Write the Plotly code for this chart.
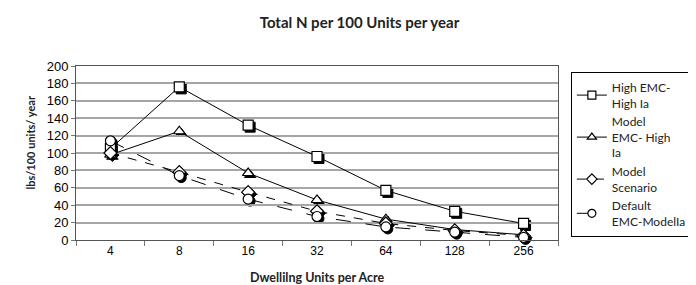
import plotly.graph_objects as go

categories = ["4", "8", "16", "32", "64", "128", "256"]
high_emc_high_ia = [105, 176, 132, 96, 57, 33, 19]
model_emc_high_ia = [98, 125, 77, 46, 24, 12, 6]
model_scenario = [100, 78, 55, 33, 19, 11, 5]
default_emc_model_ia = [114, 74, 47, 27, 15, 9, 3]

series = [
    ("High EMC-<br>High Ia", high_emc_high_ia, "square", "solid"),
    ("Model<br>EMC- High<br>Ia", model_emc_high_ia, "triangle-up", "solid"),
    ("Model<br>Scenario", model_scenario, "diamond", "dash"),
    ("Default<br>EMC-ModelIa", default_emc_model_ia, "circle", "longdash"),
]

W, H = 696, 285
ml, mr, mt, mb = 68, 138, 58, 51
pw, ph = W - ml - mr, H - mt - mb
dx, dy = 2 / pw, 2 / ph
MS = 10

fig = go.Figure()
# shadows (hidden, slightly shifted subplot, drawn first)
for name, vals, sym, dash in series:
    fig.add_trace(go.Scatter(x=categories, y=vals, mode="markers", xaxis="x", yaxis="y",
                             marker=dict(symbol=sym, size=MS, color="black", line=dict(color="black", width=1)),
                             showlegend=False, hoverinfo="skip", cliponaxis=False))
for name, vals, sym, dash in series:
    fig.add_trace(go.Scatter(x=categories, y=vals, name=name, mode="lines+markers", xaxis="x2", yaxis="y2",
                             line=dict(color="black", width=1, dash=dash),
                             marker=dict(symbol=sym, size=MS, color="white", line=dict(color="black", width=1.2)),
                             cliponaxis=False, showlegend=False))
# legend entries
for name, vals, sym, dash in series:
    fig.add_trace(go.Scatter(x=[None], y=[None], name=name, mode="lines+markers", xaxis="x2", yaxis="y2",
                             line=dict(color="black", width=1, dash=dash),
                             marker=dict(symbol=sym, size=8, color="white", line=dict(color="black", width=1.2))))

fig.update_layout(
    width=W, height=H,
    margin=dict(l=ml, r=mr, t=mt, b=mb),
    paper_bgcolor="white", plot_bgcolor="rgba(0,0,0,0)",
    font=dict(family="Liberation Sans, Arial, sans-serif", size=12, color="black"),
    title=dict(text="<b>Total N per 100 Units per year</b>", x=0.505, xanchor="center", y=0.95, yanchor="middle",
               font=dict(family="Lato, sans-serif", size=15, color="#222")),
    xaxis=dict(type="category", range=[-0.5, 6.5], domain=[dx, 1], visible=False, anchor="y",
               categoryorder="array", categoryarray=categories),
    yaxis=dict(range=[0, 200], domain=[0, 1 - dy], visible=False, anchor="x"),
    xaxis2=dict(type="category", range=[-0.5, 6.5], domain=[0, 1 - dx], anchor="y2",
                categoryorder="array", categoryarray=categories,
                showgrid=False, showline=True, linecolor="#555", mirror=True,
                ticks="outside", tickson="boundaries", ticklen=5, tickcolor="#777",
                title=dict(text="<b>Dwellilng Units per Acre</b>", font=dict(family="Lato, sans-serif", size=12.5, color="#222"),
                           standoff=15),
                tickfont=dict(size=12)),
    yaxis2=dict(range=[0, 200], dtick=20, domain=[dy, 1], anchor="x2",
                showgrid=True, gridcolor="#a6a6a6", gridwidth=1.5,
                showline=True, linecolor="#555", mirror=True, ticks="outside", ticklen=4, tickcolor="#777",
                tickfont=dict(size=13), zeroline=False),
    annotations=[dict(text="<b>lbs/100 units/ year</b>", xref="paper", yref="paper",
                      x=(21 - ml) / pw, y=(H - mb - 135) / ph, xanchor="center", yanchor="middle",
                      textangle=-90, showarrow=False,
                      font=dict(family="Lato, sans-serif", size=11, color="#222"))],
    legend=dict(x=(569 - ml) / pw, xanchor="left", y=(H - mb - 64) / ph, yanchor="top",
                bordercolor="black", borderwidth=1, tracegroupgap=0,
                bgcolor="white", font=dict(family="Lato, sans-serif", size=12, color="#222")),
)

fig.write_html("out.html")
